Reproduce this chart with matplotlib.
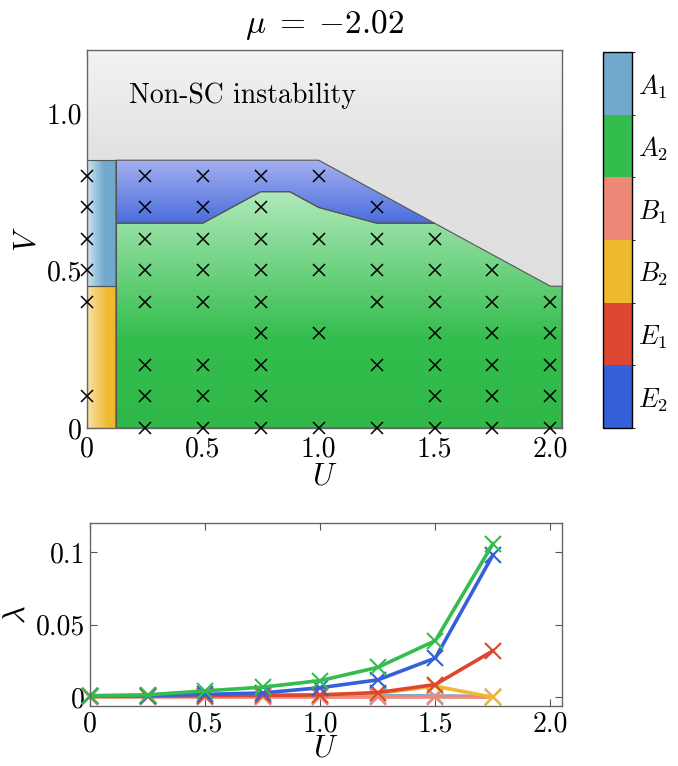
import numpy as np
import matplotlib as mpl
from matplotlib import pyplot as plt
from matplotlib.patches import Polygon
from matplotlib.colors import LinearSegmentedColormap, ListedColormap, BoundaryNorm

plt.rcParams['font.family'] = 'cmr10'
plt.rcParams['mathtext.fontset'] = 'cm'
plt.rcParams['axes.formatter.use_mathtext'] = True

# irreps and their colours
irreps = ['$A_1$', '$A_2$', '$B_1$', '$B_2$', '$E_1$', '$E_2$']
irrep_colors = ['#70a9cd', '#33bd4c', '#ee8878', '#efb92f', '#dd4732', '#3461d9']

# phase boundaries (U, V)
U_top = [0.0, 1.0, 2.0, 2.05]
V_top = [0.85, 0.85, 0.45, 0.45]
U_e2 = [0.125, 0.5, 0.75, 0.875, 1.0, 1.25, 1.5]
V_e2 = [0.65, 0.65, 0.75, 0.75, 0.70, 0.65, 0.65]
U_strip = 0.125
V_split = 0.45

# computed grid points, one V list per U column
U_cols = [0.0, 0.25, 0.5, 0.75, 1.0, 1.25, 1.5, 1.75, 2.0]
V_cols = [
    [0.8, 0.7, 0.6, 0.5, 0.4, 0.1],
    [0.8, 0.7, 0.6, 0.5, 0.4, 0.2, 0.1, 0.0],
    [0.8, 0.7, 0.6, 0.5, 0.4, 0.2, 0.1, 0.0],
    [0.8, 0.7, 0.6, 0.5, 0.4, 0.3, 0.2, 0.1, 0.0],
    [0.8, 0.6, 0.5, 0.3, 0.0],
    [0.7, 0.6, 0.5, 0.4, 0.2, 0.0],
    [0.6, 0.5, 0.4, 0.3, 0.2, 0.1, 0.0],
    [0.5, 0.4, 0.3, 0.2, 0.1, 0.0],
    [0.4, 0.3, 0.2, 0.1, 0.0],
]

# eigenvalues vs U
U_lam = [0.0, 0.25, 0.5, 0.75, 1.0, 1.25, 1.5, 1.75]
lam_A1 = [0.0012, 0.0010, 0.0010, 0.0010, 0.0010, 0.0010, 0.0010, 0.0005]
lam_B1 = [0.0, 0.0, 0.0, 0.0, 0.0, 0.0, 0.0, 0.0]
lam_B2 = [0.0008, 0.0009, 0.0011, 0.0013, 0.0017, 0.0027, 0.0077, 0.0]
lam_E1 = [0.0008, 0.0009, 0.0011, 0.0013, 0.0016, 0.0033, 0.0088, 0.032]
lam_E2 = [0.0010, 0.0012, 0.0020, 0.0030, 0.0066, 0.0120, 0.027, 0.098]
lam_A2 = [0.0010, 0.0017, 0.0044, 0.0070, 0.0115, 0.0206, 0.039, 0.1057]

U_max = 2.05
V_max = 1.2


def grad_fill(ax, verts, extent, stops, axis='y', edge=True):
    poly = Polygon(verts, closed=True, facecolor='none',
                   edgecolor='#555555' if edge else 'none', lw=0.8, zorder=3)
    ax.add_patch(poly)
    lo, hi = (extent[2], extent[3]) if axis == 'y' else (extent[0], extent[1])
    pos = [(np.clip((s - lo) / (hi - lo), 0, 1), c) for s, c in stops]
    cmap = LinearSegmentedColormap.from_list('g', pos)
    t = np.linspace(0, 1, 256)
    img = t[:, None] if axis == 'y' else t[None, :]
    im = ax.imshow(img, cmap=cmap, vmin=0, vmax=1, extent=extent, origin='lower',
                   aspect='auto', zorder=2, interpolation='bilinear')
    im.set_clip_path(poly)


fig = plt.figure(figsize=(6.78, 7.66), dpi=100)
ax = fig.add_axes([0.1283, 0.4413, 0.7006, 0.4935])

top_at = lambda u: float(np.interp(u, U_top, V_top))

# non-SC (gray) region
gray_verts = list(zip(U_top, V_top)) + [(U_max, V_max), (0, V_max)]
grad_fill(ax, gray_verts, [0, U_max, 0.4, V_max],
          [(0.4, '#dfdfdf'), (0.85, '#e1e1e1'), (1.2, '#f3f3f3')], edge=False)

# A2 (green) region
green_verts = [(U_strip, 0), (U_max, 0), (U_max, top_at(U_max)), (2.0, top_at(2.0))]
green_verts += list(zip(U_e2, V_e2))[::-1]
grad_fill(ax, green_verts, [0, U_max, 0, 0.9],
          [(0.0, '#30b948'), (0.28, '#33bd4c'), (0.78, '#b8ecc2'), (0.9, '#c8f0d0')])

# E2 (blue) region
blue_verts = list(zip(U_e2, V_e2)) + [(1.0, top_at(1.0)), (U_strip, top_at(U_strip))]
grad_fill(ax, blue_verts, [0, U_max, 0.6, 0.86],
          [(0.6, '#4166da'), (0.65, '#4a6ddc'), (0.86, '#a8b3f1')])

# A1 and B2 strips at U = 0
a1_verts = [(0, V_split), (U_strip, V_split), (U_strip, top_at(0)), (0, top_at(0))]
grad_fill(ax, a1_verts, [0, U_strip, 0, 1], [(0, '#cfe5f0'), (0.075, '#70a9cd'), (U_strip, '#70a9cd')], axis='x')
b2_verts = [(0, 0), (U_strip, 0), (U_strip, V_split), (0, V_split)]
grad_fill(ax, b2_verts, [0, U_strip, 0, 1], [(0, '#f9e2ab'), (0.09, '#efb92f'), (U_strip, '#efb92f')], axis='x')

for u, vs in zip(U_cols, V_cols):
    ax.plot([u] * len(vs), vs, 'x', color='black', ms=8.5, mew=1.1, zorder=5, clip_on=False)

ax.text(0.18, 1.055, 'Non-SC instability', fontsize=20, va='center', ha='left', zorder=6)
ax.set_xlim(0, U_max)
ax.set_ylim(0, V_max)
ax.set_xticks([0, 0.5, 1.0, 1.5, 2.0])
ax.set_xticklabels(['0', '0.5', '1.0', '1.5', '2.0'])
ax.set_yticks([0, 0.5, 1.0])
ax.set_yticklabels(['0', '0.5', '1.0'])
ax.set_xlabel('$U$', fontsize=22, va='center')
ax.xaxis.set_label_coords(0.5, -0.13)
ax.set_ylabel('$V$', fontsize=22, labelpad=4)
ax.set_title(r'$\mu\;=\;{-2.02}$', fontsize=24, pad=12)

# colour bar of irreps (top to bottom A1 ... E2)
cax = fig.add_axes([0.8894, 0.4413, 0.0428, 0.4909])
cmap = ListedColormap(irrep_colors[::-1])
norm = BoundaryNorm(np.arange(7), 6)
cb = fig.colorbar(mpl.cm.ScalarMappable(norm=norm, cmap=cmap), cax=cax)
cb.set_ticks(np.arange(6) + 0.5)
cb.set_ticklabels(irreps[::-1])
cax.tick_params(length=0, labelsize=19, pad=4)
cb.outline.set_linewidth(1.0)

# eigenvalue panel
ax2 = fig.add_axes([0.1327, 0.0783, 0.6962, 0.2389])
series = [(lam_A1, irrep_colors[0]), (lam_B1, irrep_colors[2]), (lam_B2, irrep_colors[3]),
          (lam_E1, irrep_colors[4]), (lam_E2, irrep_colors[5]), (lam_A2, irrep_colors[1])]
for vals, c in series:
    ax2.plot(U_lam, vals, '-x', color=c, lw=2.6, ms=12, mew=1.5, clip_on=False)
ax2.set_xlim(0, U_max)
ax2.set_ylim(-0.006, 0.12)
ax2.set_xticks([0, 0.5, 1.0, 1.5, 2.0])
ax2.set_xticklabels(['0', '0.5', '1.0', '1.5', '2.0'])
ax2.set_yticks([0, 0.05, 0.1])
ax2.set_yticklabels(['0', '0.05', '0.1'])
ax2.set_xlabel('$U$', fontsize=22, va='center')
ax2.xaxis.set_label_coords(0.5, -0.235)
ax2.set_ylabel(r'$\lambda$', fontsize=22, labelpad=4)

for a in (ax, ax2):
    a.tick_params(direction='in', top=True, right=True, length=5, width=0.8,
                  color='#555555', labelsize=20)
    for s in a.spines.values():
        s.set_color('#666666')
        s.set_linewidth(1.0)
        s.set_zorder(4)
ax.tick_params(axis='x', pad=6)
ax2.tick_params(axis='x', pad=4)

fig.savefig('out.png', dpi=100)
